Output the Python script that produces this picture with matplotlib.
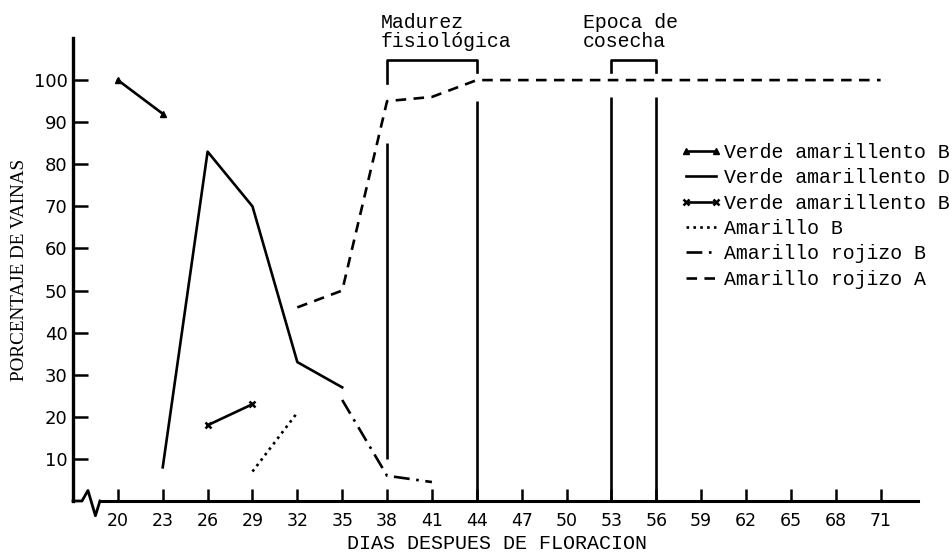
from matplotlib import pyplot as plt
import numpy as np

# dias despues de floracion / porcentaje de vainas
dias_vab = [20, 23]
vab = [100, 92]

dias_vad = [23, 26, 29, 32, 35]
vad = [8, 83, 70, 33, 27]

dias_vab2 = [26, 29]
vab2 = [18, 23]

dias_ab = [29, 32]
ab = [7, 21]

dias_arb = [35, 38, 41]
arb = [24, 6, 4.5]

dias_ara = [32, 35, 38, 41, 44, 47, 50, 53, 56, 59, 62, 65, 68, 71]
ara = [46, 50, 95, 96, 100, 100, 100, 100, 100, 100, 100, 100, 100, 100]

# lineas verticales (dia, altura)
v_dias = [38, 44, 53, 56]
v_bajo = [10, 0, 0, 0]
v_alto = [85, 95, 96, 96]

xticks = list(range(20, 72, 3))
yticks = list(range(10, 101, 10))

mono = 'Liberation Mono'
lw = 1.9

fig = plt.figure(figsize=(9.52, 5.52), dpi=100)
ax = fig.add_axes([73/952, 1-501/552, (918-73)/952, (501-38)/552])

ax.plot(dias_vab, vab, '-', color='k', lw=lw, marker='^', ms=5,
        label='Verde amarillento B')
ax.plot(dias_vad, vad, '-', color='k', lw=lw, label='Verde amarillento D')
ax.plot(dias_vab2, vab2, '-', color='k', lw=lw, marker='x', ms=5, mew=1.8,
        label='Verde amarillento B')
ax.plot(dias_ab, ab, color='k', lw=lw, linestyle=(0, (1, 1.6)),
        label='Amarillo B')
ax.plot(dias_arb, arb, color='k', lw=lw, linestyle=(0, (6, 2.5, 1, 2.5)),
        label='Amarillo rojizo B')
ax.plot(dias_ara, ara, color='k', lw=lw, linestyle=(0, (4, 2.8)),
        label='Amarillo rojizo A')

ax.vlines(v_dias, v_bajo, v_alto, color='k', lw=lw)

# corchetes
ax.plot([38, 38, 44, 44], [99.3, 104.8, 104.8, 101.9], color='k', lw=lw,
        clip_on=False)
ax.plot([53, 53, 56, 56], [101.9, 104.8, 104.8, 101.9], color='k', lw=lw,
        clip_on=False)
ax.text(37.6, 107.0, 'Madurez\nfisiológica', family=mono, fontsize=14.3,
        ha='left', va='bottom', linespacing=0.95)
ax.text(51.1, 107.0, 'Epoca de\ncosecha', family=mono, fontsize=14.3,
        ha='left', va='bottom', linespacing=0.95)

ax.set_xlim(17, 73.5)
ax.set_ylim(0, 110)
ax.spines['top'].set_visible(False)
ax.spines['right'].set_visible(False)
ax.spines['left'].set_linewidth(2.4)
ax.spines['bottom'].set_linewidth(2.2)
ax.spines['bottom'].set_bounds(18.8, 73.5)

# corte del eje x
ax.plot([17, 17.6, 18.0, 18.5, 18.8], [0, 0, 2.5, -3.5, 0], color='k',
        lw=2.0, clip_on=False)

ax.set_xticks(xticks)
ax.set_yticks(yticks)
ax.tick_params(axis='x', direction='in', length=9, width=1.8, labelsize=12.5,
               pad=8)
ax.tick_params(axis='y', direction='in', length=11, width=1.8, labelsize=13,
               pad=4)

ax.set_ylabel('PORCENTAJE DE VAINAS', family='Liberation Serif', fontsize=13.8,
              labelpad=4)
fig.text(497/952, 1-534/552, 'DIAS DESPUES DE FLORACION', family=mono,
         fontsize=14.4, ha='center', va='top')

ax.legend(loc='upper left', bbox_to_anchor=(680/952, 1-143/552),
          bbox_transform=fig.transFigure, frameon=False, prop={'family': mono,
          'size': 14.3}, handlelength=2.1, handletextpad=0.1, labelspacing=0.32,
          borderpad=0, borderaxespad=0, numpoints=2)

plt.savefig('out.png', dpi=100)
